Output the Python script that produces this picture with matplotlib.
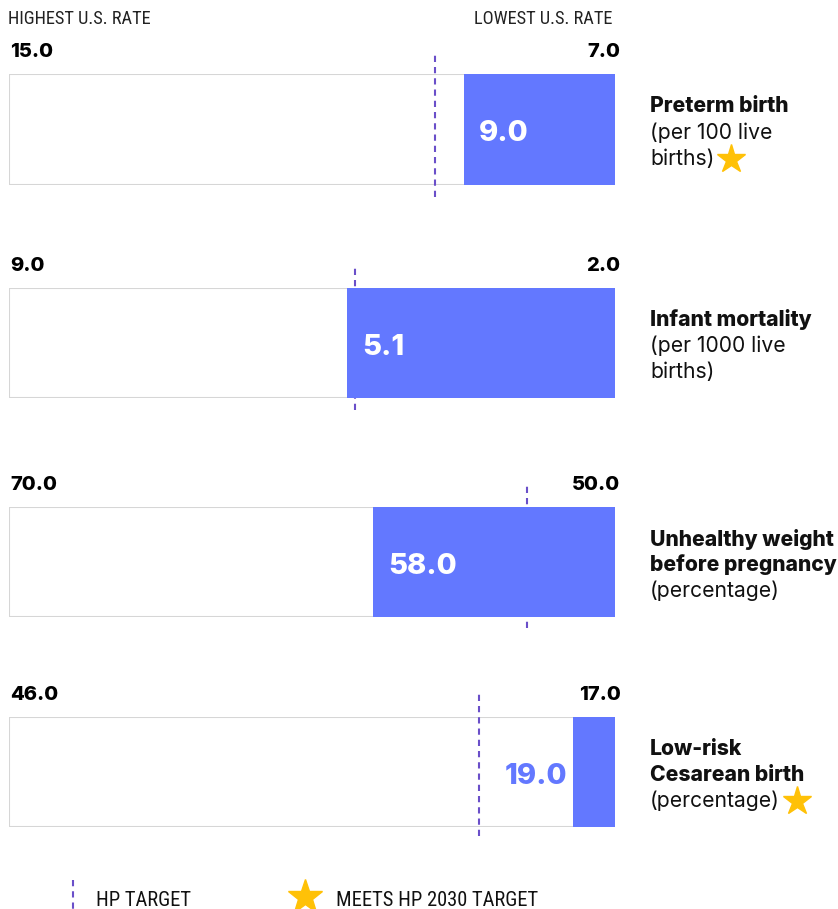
import matplotlib
matplotlib.use("Agg")
import matplotlib.pyplot as plt
from matplotlib.lines import Line2D

# данные
categories = ["Preterm birth", "Infant mortality", "Unhealthy weight\nbefore pregnancy", "Low-risk\nCesarean birth"]
units = ["(per 100 live\nbirths)", "(per 1000 live\nbirths)", "(percentage)", "(percentage)"]
highest = [15.0, 9.0, 70.0, 46.0]
lowest = [7.0, 2.0, 50.0, 17.0]
values = [9.0, 5.1, 58.0, 19.0]
targets = [9.38, 5.0, 52.9, 23.5]
meets_target = [True, False, False, True]

FILL = "#6378FF"
TARGET = "#6A4FC9"
STAR = "#FFC107"
EDGE = "#D6D6D6"
MAIN = "Inter"
NARROW = "Roboto Condensed"
HEAVY = 800

W, H = 838, 909
fig = plt.figure(figsize=(W / 100, H / 100), dpi=100)


def fx(x):
    return x / W


def fy(y):
    return 1 - y / H


# верх и низ каждой полосы в пикселях
rows = [(74, 185), (288, 398), (507, 617), (717, 827)]
bar_left, bar_right = 9, 615
line_ext = [(21, 12), (23, 12), (21, 11), (24, 9)]

fig.text(fx(8), fy(19), "HIGHEST U.S. RATE", family=NARROW, fontsize=13.2, va="center", color="#222222")
fig.text(fx(612), fy(19), "LOWEST U.S. RATE", family=NARROW, fontsize=13.2, va="center", ha="right", color="#222222")

renderer = fig.canvas.get_renderer()

for i in range(4):
    top, bot = rows[i]
    ax = fig.add_axes([fx(bar_left), fy(bot), (bar_right - bar_left) / W, (bot - top) / H])
    ax.set_xlim(highest[i], lowest[i])
    ax.set_ylim(0, 1)
    ax.axis("off")

    # белая рамка во всю шкалу
    ax.barh(0.5, lowest[i] - highest[i], left=highest[i], height=1.0,
            color="white", edgecolor=EDGE, linewidth=1.5, zorder=1)
    # целевая линия HP
    up, down = line_ext[i]
    h = bot - top
    ax.plot([targets[i], targets[i]], [-down / h, 1 + up / h], color=TARGET,
            lw=1.5, dashes=(3, 2.4), clip_on=False, zorder=2)
    # заполненная часть
    ax.barh(0.5, lowest[i] - values[i], left=values[i], height=1.0,
            color=FILL, edgecolor="none", zorder=3)

    frac = (values[i] - lowest[i]) / (highest[i] - lowest[i])
    if frac > 0.1:
        ax.annotate(f"{values[i]:.1f}", (values[i], 0.5), xytext=(11, -3), textcoords="offset points",
                    ha="left", va="center", color="white", fontsize=21, fontweight=HEAVY,
                    family=MAIN, zorder=4)
    else:
        ax.annotate(f"{values[i]:.1f}", (values[i], 0.5), xytext=(-4, -3), textcoords="offset points",
                    ha="right", va="center", color=FILL, fontsize=21, fontweight=HEAVY,
                    family=MAIN, zorder=4)

    ax.annotate(f"{highest[i]:.1f}", (0, 1), xycoords="axes fraction", xytext=(1, 16),
                textcoords="offset points", ha="left", va="center", fontsize=14.5,
                fontweight=HEAVY, family=MAIN)
    ax.annotate(f"{lowest[i]:.1f}", (1, 1), xycoords="axes fraction", xytext=(4, 16),
                textcoords="offset points", ha="right", va="center", fontsize=14.5,
                fontweight=HEAVY, family=MAIN)

    # подписи справа
    name_lines = categories[i].split("\n")
    unit_lines = units[i].split("\n")
    y0 = (top + bot) / 2 + 3 - 26 * (len(name_lines) + len(unit_lines) - 1) / 2
    y = y0
    for ln in name_lines:
        fig.text(fx(650), fy(y), ln, family=MAIN, fontweight=HEAVY, fontsize=15.2, va="center", color="#111111")
        y += 26
    last = None
    for ln in unit_lines:
        last = fig.text(fx(650), fy(y), ln, family=MAIN, fontsize=15.2, va="center", color="#111111")
        y += 26
    if meets_target[i]:
        bb = last.get_window_extent(renderer)
        fig.add_artist(Line2D([fx(bb.x1 + 17)], [fy(y - 26)], marker="*", markersize=21,
                              color=STAR, transform=fig.transFigure))

# легенда
fig.add_artist(Line2D([fx(73), fx(73)], [fy(880), fy(909)], color=TARGET, lw=1.5,
                      dashes=(3, 2.4), transform=fig.transFigure))
fig.text(fx(96), fy(900), "HP TARGET", family=NARROW, fontsize=14.8, va="center", color="#111111")
fig.add_artist(Line2D([fx(305)], [fy(897)], marker="*", markersize=26, color=STAR,
                      transform=fig.transFigure))
fig.text(fx(336), fy(900), "MEETS HP 2030 TARGET", family=NARROW, fontsize=14.8, va="center", color="#111111")

fig.savefig("out.png", dpi=100)
